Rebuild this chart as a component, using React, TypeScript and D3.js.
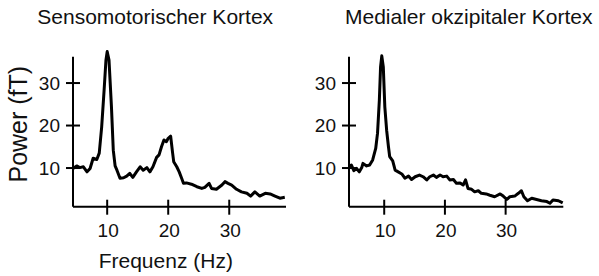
import React from 'react';
import * as d3 from 'd3';

// frequency (Hz) / power (fT)
const sensoFreq = [4.4, 5.0, 5.5, 6.1, 6.7, 7.2, 7.7, 8.3, 8.7, 9.1, 9.5, 9.8, 10.0, 10.3, 10.7, 11.0, 11.3, 11.6, 12.1, 12.7, 13.2, 13.7, 14.2, 14.8, 15.4, 15.9, 16.5, 17.0, 17.5, 18.1, 18.5, 18.9, 19.3, 19.7, 20.0, 20.4, 20.7, 20.9, 21.4, 21.8, 22.2, 22.5, 23.0, 23.8, 24.7, 25.5, 26.0, 26.7, 27.1, 27.9, 28.8, 29.3, 29.8, 30.4, 31.2, 32.0, 32.9, 33.5, 34.2, 35.0, 35.9, 36.7, 37.5, 38.3, 39.1];
const sensoPower = [9.9, 10.5, 10.1, 10.3, 9.1, 9.9, 12.3, 12.0, 13.5, 19.7, 28.4, 35.4, 37.4, 35.4, 24.4, 14.2, 10.5, 9.5, 7.6, 7.7, 8.1, 8.75, 7.8, 9.1, 10.3, 9.5, 10.1, 9.1, 10.3, 12.5, 13.1, 15.0, 16.6, 16.2, 17.0, 17.5, 13.8, 11.5, 10.3, 9.1, 7.6, 6.4, 6.5, 6.2, 5.6, 5.2, 5.45, 6.4, 5.2, 5.0, 6.0, 6.8, 6.4, 6.0, 5.0, 4.4, 4.05, 3.4, 4.4, 3.4, 4.05, 3.9, 3.4, 2.9, 3.1];

const okziFreq = [4.2, 4.6, 5.0, 5.45, 5.9, 6.3, 6.5, 7.1, 7.6, 8.1, 8.6, 8.9, 9.2, 9.4, 9.6, 9.85, 10.1, 10.4, 10.7, 10.9, 11.4, 11.8, 12.3, 12.9, 13.4, 14.0, 14.5, 15.1, 15.8, 16.4, 17.0, 17.5, 18.1, 18.6, 19.2, 19.7, 20.3, 20.8, 21.4, 21.9, 22.5, 23.0, 23.4, 23.8, 24.4, 24.9, 25.5, 26.0, 26.8, 27.4, 28.2, 29.1, 29.6, 30.2, 30.7, 31.5, 32.1, 32.6, 33.0, 33.6, 34.3, 35.1, 35.9, 36.8, 37.3, 37.8, 38.7, 39.4];
const okziPower = [10.3, 10.7, 9.4, 9.9, 9.1, 10.1, 11.1, 10.5, 10.7, 11.9, 14.6, 18.2, 26.0, 33.8, 36.4, 33.8, 24.4, 18.9, 15.0, 12.7, 11.7, 9.5, 9.1, 8.6, 7.6, 8.1, 7.3, 7.95, 8.35, 7.95, 7.2, 7.95, 8.35, 7.8, 8.35, 7.95, 8.1, 7.2, 7.3, 6.4, 6.5, 6.0, 7.2, 5.2, 5.0, 4.4, 4.65, 4.05, 3.9, 3.6, 3.25, 3.9, 3.4, 2.6, 3.25, 3.4, 4.05, 4.65, 3.25, 2.3, 2.9, 2.6, 2.3, 2.1, 1.7, 2.5, 2.3, 1.8];

const tickValues = [10, 20, 30];
const titles = ['Sensomotorischer Kortex', 'Medialer okzipitaler Kortex'];

const font = 'Liberation Sans, Arial, Helvetica, sans-serif';

type PanelProps = {
  freq: number[];
  power: number[];
  xDomain: [number, number];
  xRange: [number, number];
};

function Panel({ freq, power, xDomain, xRange }: PanelProps) {
  const x = d3.scaleLinear().domain(xDomain).range(xRange);
  const y = d3.scaleLinear().domain([0.9, 36.2]).range([206.7, 56.7]);
  const pts: [number, number][] = freq.map((f, i) => [f, power[i]]);
  const line = d3.line<[number, number]>()
    .x(d => x(d[0]))
    .y(d => y(d[1]));

  const x0 = xRange[0];
  const yBase = y.range()[0];

  return (
    <g>
      <path d={line(pts) || ''} fill="none" stroke="#000" strokeWidth={3} strokeLinejoin="round" />
      <line x1={x0} x2={x0} y1={y.range()[1]} y2={yBase} stroke="#000" strokeWidth={2} />
      <line x1={x0} x2={xRange[1]} y1={yBase} y2={yBase} stroke="#000" strokeWidth={2} />
      {tickValues.map(t => (
        <g key={'y' + t}>
          <line x1={x0 - 7} x2={x0 + 7} y1={y(t)} y2={y(t)} stroke="#000" strokeWidth={2} />
          <text x={x0 - 13} y={y(t)} dy="0.36em" textAnchor="end" fontSize={19} fontFamily={font} fill="#111">{t}</text>
        </g>
      ))}
      {tickValues.map(t => (
        <g key={'x' + t}>
          <line x1={x(t)} x2={x(t)} y1={yBase - 7} y2={yBase + 8} stroke="#000" strokeWidth={2} />
          <text x={x(t) + 1} y={236.7} textAnchor="middle" fontSize={19} fontFamily={font} fill="#111">{t}</text>
        </g>
      ))}
    </g>
  );
}

export default function App() {
  return (
    <svg width={599} height={276} style={{ position: 'absolute', left: 0, top: 0, background: '#fff' }}>
      <text x={37.3} y={24} fontSize={21} fontFamily={font} fill="#111">{titles[0]}</text>
      <text x={345} y={24} fontSize={21} fontFamily={font} fill="#111">{titles[1]}</text>
      <Panel freq={sensoFreq} power={sensoPower} xDomain={[4.4, 39.3]} xRange={[73, 286]} />
      <Panel freq={okziFreq} power={okziPower} xDomain={[4.2, 39.5]} xRange={[349, 563.3]} />
      <text transform="translate(26.5,124.2) rotate(-90)" textAnchor="middle" fontSize={25} fontFamily={font} fill="#111">Power (fT)</text>
      <text x={165.8} y={268.3} textAnchor="middle" fontSize={21} fontFamily={font} fill="#111">Frequenz (Hz)</text>
    </svg>
  );
}
